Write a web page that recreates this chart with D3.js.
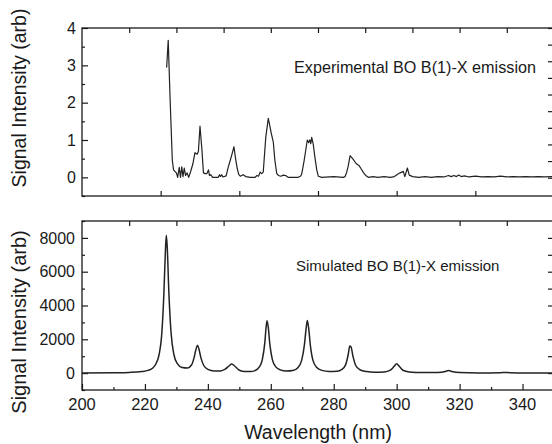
<!DOCTYPE html>
<html>
<head>
<meta charset="utf-8">
<script src="https://cdn.jsdelivr.net/npm/d3@7"></script>
<style>
  body { margin: 0; background: #fff; }
  svg text { font-family: "Liberation Sans", Arial, sans-serif; fill: #1a1a1a; }
</style>
</head>
<body>
<div id="chart"></div>
<script>
// experimental BO B(1)-X emission, [wavelength nm, signal arb]
const experimental = [
  [226.9,2.94],[227.4,3.67],[228.0,2.1],[228.7,0.45],[229.1,0.2],[229.6,0.15],[230.0,0.12],
  [230.4,0.0],[230.9,0.27],[231.3,0.0],[231.7,0.28],[232.1,0.02],[232.5,0.25],[232.9,0.05],
  [233.4,0.12],[233.9,0.0],[234.5,0.15],[235.2,0.35],[235.9,0.66],[236.6,0.62],[237.0,0.7],
  [237.5,1.37],[238.1,0.75],[238.6,0.12],[239.1,0.1],[239.7,0.1],[240.2,0.2],[240.5,0.05],
  [240.9,0.07],[241.5,0.0],[243.3,0.0],[243.7,0.07],[244.0,0.02],[244.4,0.07],[244.8,0.01],
  [245.8,0.04],[246.5,0.28],[247.1,0.45],[247.6,0.6],[248.3,0.82],[248.8,0.5],[249.3,0.25],
  [249.8,0.08],[250.3,0.03],[251.2,0.07],[252.0,0.02],[253.5,0.0],[255.0,0.0],[255.6,0.05],
  [256.1,0.03],[256.6,0.14],[257.1,0.1],[257.6,0.14],[258.4,1.07],[259.2,1.58],[259.6,1.42],
  [260.1,1.2],[260.8,0.94],[261.3,0.45],[261.9,0.1],[262.4,0.05],[263.2,0.03],[264.0,0.06],
  [264.7,0.05],[265.5,0.0],[268.7,0.0],[269.4,0.03],[269.8,0.08],[270.6,0.45],[271.6,1.0],
  [272.0,0.93],[272.4,1.0],[272.7,0.9],[273.0,1.07],[273.5,0.88],[274.0,0.55],[274.6,0.2],
  [275.1,0.03],[276.2,0.0],[280.0,0.02],[283.0,0.0],[283.6,0.02],[284.1,0.13],[284.6,0.3],
  [285.2,0.58],[286.2,0.48],[287.1,0.37],[288.0,0.32],[288.7,0.23],[289.5,0.12],[290.3,0.04],
  [291.0,0.0],[292.5,0.02],[294,0.0],[296,0.02],[298,0.0],[299.3,0.02],[300.3,0.08],
  [301.1,0.12],[302.1,0.16],[302.6,0.02],[303.4,0.25],[304.0,0.06],[305.1,0.02],[307,0.0],
  [309,0.02],[311,0.0],[313,0.02],[315,0.01],[316.5,0.05],[317.3,0.02],[318.2,0.05],
  [319.0,0.02],[319.7,0.06],[320.5,0.02],[321.5,0.04],[323,0.01],[325,0.03],[327,0.01],
  [329,0.02],[331,0.01],[333,0.03],[335,0.01],[337,0.02],[339,0.01],[341,0.02],[343,0.01],
  [345,0.02],[347,0.01],[350,0.02]
];

// simulated spectrum, [wavelength nm, signal arb]
const simulated = [
  [200,0],[210,20],[215,40],[219,90],[221,160],[222.5,300],[223.5,550],[224.5,1100],
  [225.3,2200],[226,4600],[226.5,7200],[226.8,8160],[227.1,7400],[227.6,4800],[228.3,2400],
  [229.2,1100],[230.3,560],[231.8,330],[233.5,300],[234.8,480],[235.6,900],[236.2,1400],
  [236.7,1650],[237.2,1400],[237.8,900],[238.7,450],[240,220],[242,130],[244,130],
  [245.5,230],[246.7,420],[247.6,540],[248.5,420],[249.7,210],[251.5,100],[253.5,90],
  [255,150],[256.3,350],[257.3,800],[258.1,1800],[258.5,2700],[258.8,3100],[259.2,2700],
  [259.7,1700],[260.5,800],[261.6,370],[263,190],[265,120],[267,150],[268.6,320],
  [269.8,750],[270.7,1700],[271.2,2600],[271.6,3110],[272,2700],[272.6,1600],[273.4,750],
  [274.6,330],[276.2,160],[278.5,100],[281,110],[282.6,220],[283.8,500],[284.6,1100],
  [285.1,1600],[285.5,1550],[286.1,1000],[287,450],[288.3,200],[290.5,90],[293,50],
  [296,70],[298,180],[299.2,400],[300,550],[300.8,400],[302,170],[304,70],[308,30],
  [313,40],[315.5,100],[316.5,150],[317.5,100],[320,30],[326,10],[333,25],[334.5,40],
  [336,20],[342,5],[350,0]
];

const xTickLabels = [200, 220, 240, 260, 280, 300, 320, 340];
const topYTicks = [0, 1, 2, 3, 4];
const botYTicks = [0, 2000, 4000, 6000, 8000];

const W = 552, H = 444;
const svg = d3.select("#chart").append("svg")
    .attr("width", W)
    .attr("height", H);

const x = d3.scaleLinear().domain([200, 350]).range([82, 554]);

const yTop = d3.scaleLinear().domain([-0.5, 4]).range([196, 28]);
const yTopRight = d3.scaleLinear().domain([-1.1, 9]).range([196, 28]);
const yBot = d3.scaleLinear().domain([-1000, 9000]).range([390, 221]);

const ink = "#1a1a1a";

function frame(y) {
    const [b, t] = y.range();
    svg.append("rect")
        .attr("x", x.range()[0]).attr("y", t)
        .attr("width", x.range()[1] - x.range()[0]).attr("height", b - t)
        .style("fill", "none").style("stroke", ink).style("stroke-width", 1.3);
}

// inward tick marks, no labels
function ticks(axisFn, scale, values, len, transform) {
    svg.append("g")
        .attr("transform", transform)
        .call(axisFn(scale).tickValues(values).tickSize(-len).tickFormat(""))
        .call(g => g.select(".domain").remove())
        .call(g => g.selectAll("line").style("stroke", ink).style("stroke-width", 1.2));
}

const left = x.range()[0], right = x.range()[1];

// ---- top panel
frame(yTop);
ticks(d3.axisLeft, yTop, topYTicks, 6, `translate(${left},0)`);
ticks(d3.axisLeft, yTop, d3.range(-0.5, 4, 1), 3, `translate(${left},0)`);
ticks(d3.axisRight, yTopRight, d3.range(0, 10), 6, `translate(${right},0)`);
ticks(d3.axisTop, x, d3.range(215, 350, 15), 5, `translate(0,${yTop.range()[1]})`);
ticks(d3.axisBottom, x, d3.range(225, 350, 25), 5, `translate(0,${yTop.range()[0]})`);

svg.append("g").selectAll("text")
    .data(topYTicks)
    .enter().append("text")
    .attr("x", 76)
    .attr("y", d => yTop(d))
    .attr("dy", "0.36em")
    .attr("text-anchor", "end")
    .style("font-size", "16px")
    .text(d => d);

svg.append("path")
    .datum(experimental)
    .attr("d", d3.line().x(d => x(d[0])).y(d => yTop(d[1])))
    .style("fill", "none")
    .style("stroke", "#222")
    .style("stroke-width", 1.2)
    .style("stroke-linejoin", "round");

svg.append("text")
    .attr("x", 294).attr("y", 73)
    .style("font-size", "16.2px")
    .text("Experimental BO B(1)-X emission");

// ---- bottom panel
frame(yBot);
ticks(d3.axisLeft, yBot, botYTicks, 6, `translate(${left},0)`);
ticks(d3.axisLeft, yBot, d3.range(-1000, 9001, 2000), 3, `translate(${left},0)`);
ticks(d3.axisRight, yBot, d3.range(0, 9000, 1000), 6, `translate(${right},0)`);
ticks(d3.axisTop, x, d3.range(215, 350, 15), 5, `translate(0,${yBot.range()[1]})`);
ticks(d3.axisBottom, x, xTickLabels, 6, `translate(0,${yBot.range()[0]})`);
ticks(d3.axisBottom, x, d3.range(210, 350, 20), 3, `translate(0,${yBot.range()[0]})`);

svg.append("g").selectAll("text")
    .data(botYTicks)
    .enter().append("text")
    .attr("x", 75)
    .attr("y", d => yBot(d))
    .attr("dy", "0.36em")
    .attr("text-anchor", "end")
    .style("font-size", "16px")
    .text(d => d);

svg.append("g").selectAll("text")
    .data(xTickLabels)
    .enter().append("text")
    .attr("x", d => x(d))
    .attr("y", 410)
    .attr("text-anchor", "middle")
    .style("font-size", "16.5px")
    .text(d => d);

svg.append("path")
    .datum(simulated)
    .attr("d", d3.line().curve(d3.curveMonotoneX).x(d => x(d[0])).y(d => yBot(d[1])))
    .style("fill", "none")
    .style("stroke", "#222")
    .style("stroke-width", 1.5);

svg.append("text")
    .attr("x", 296).attr("y", 271)
    .style("font-size", "15px")
    .text("Simulated BO B(1)-X emission");

// ---- axis titles
svg.append("text")
    .attr("x", 318).attr("y", 439)
    .attr("text-anchor", "middle")
    .style("font-size", "19.5px")
    .text("Wavelength (nm)");

svg.append("text")
    .attr("transform", "translate(26,98) rotate(-90)")
    .attr("text-anchor", "middle")
    .style("font-size", "19.5px")
    .text("Signal Intensity (arb)");

svg.append("text")
    .attr("transform", "translate(26,322) rotate(-90)")
    .attr("text-anchor", "middle")
    .style("font-size", "20px")
    .text("Signal Intensity (arb)");
</script>
</body>
</html>
